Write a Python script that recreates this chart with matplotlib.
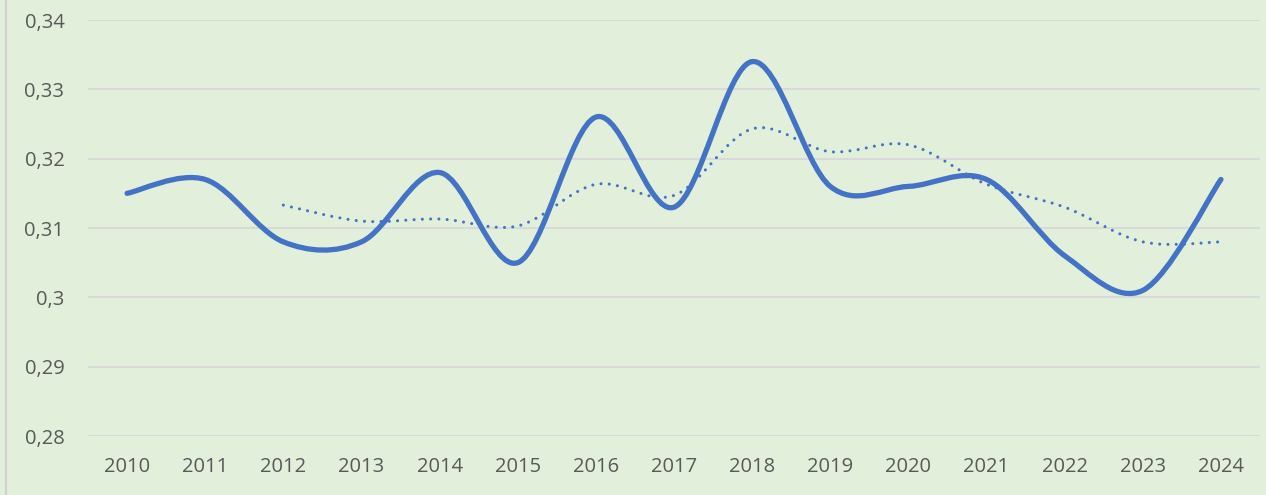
import matplotlib
matplotlib.use("Agg")
import matplotlib.pyplot as plt
from matplotlib.path import Path
from matplotlib.patches import PathPatch
from matplotlib.ticker import FuncFormatter, MultipleLocator
from matplotlib.lines import Line2D

years = ["2010", "2011", "2012", "2013", "2014", "2015", "2016", "2017",
         "2018", "2019", "2020", "2021", "2022", "2023", "2024"]
values = [0.315, 0.317, 0.308, 0.308, 0.318, 0.305, 0.326, 0.313,
          0.334, 0.316, 0.316, 0.317, 0.306, 0.301, 0.317]
# moving average trendline (starts at 2012)
ma_years = years[2:]
ma_values = [0.3133, 0.3110, 0.3113, 0.3103, 0.3163, 0.3147, 0.3243,
             0.3210, 0.3220, 0.3163, 0.3130, 0.3080, 0.3080]

BLUE = "#4472C4"
BG = "#E2EFDA"
GRID = "#D9D9D9"
TXT = "#595959"


def smooth_path(xs, ys):
    # Excel-like smoothed line: Catmull-Rom segments as cubic Bezier curves
    pts = list(zip(xs, ys))
    verts = [pts[0]]
    codes = [Path.MOVETO]
    n = len(pts)
    for i in range(n - 1):
        p0 = pts[i - 1] if i > 0 else pts[i]
        p1 = pts[i]
        p2 = pts[i + 1]
        p3 = pts[i + 2] if i + 2 < n else pts[i + 1]
        c1 = (p1[0] + (p2[0] - p0[0]) / 6, p1[1] + (p2[1] - p0[1]) / 6)
        c2 = (p2[0] - (p3[0] - p1[0]) / 6, p2[1] - (p3[1] - p1[1]) / 6)
        verts += [c1, c2, p2]
        codes += [Path.CURVE4] * 3
    return Path(verts, codes)


fig = plt.figure(figsize=(12.66, 4.95), dpi=100, facecolor=BG)
ax = fig.add_axes([88 / 1266, 1 - 436 / 495, (1260 - 88) / 1266, (436 - 20) / 495])
ax.set_facecolor(BG)

x = list(range(len(years)))
x_ma = [years.index(y) for y in ma_years]

ax.add_patch(PathPatch(smooth_path(x, values), facecolor="none", edgecolor=BLUE,
                       lw=3.8, capstyle="round", joinstyle="round", zorder=3))
ax.add_patch(PathPatch(smooth_path(x_ma, ma_values), facecolor="none", edgecolor=BLUE,
                       lw=2.2, linestyle=(0, (0.01, 2.7)), capstyle="round", zorder=3))

ax.set_xlim(-0.5, len(years) - 0.5)
ax.set_ylim(0.28, 0.34)
ax.yaxis.set_major_locator(MultipleLocator(0.01))
ax.yaxis.set_major_formatter(FuncFormatter(
    lambda v, p: ("%.2f" % v).rstrip("0").replace(".", ",")))
ax.set_xticks(x)
ax.set_xticklabels(years)

ax.grid(axis="y", color=GRID, lw=1.5)
ax.set_axisbelow(True)
for s in ax.spines.values():
    s.set_visible(False)
ax.tick_params(length=0, labelsize=14.5, labelcolor=TXT, labelfontfamily="Open Sans")
ax.tick_params(axis="y", pad=17)
ax.tick_params(axis="x", pad=15)

fig.add_artist(Line2D([6 / 1266, 6 / 1266], [0, 1], color="#D0D0D0", lw=1.5))

fig.savefig("out.png", dpi=100, facecolor=BG)
